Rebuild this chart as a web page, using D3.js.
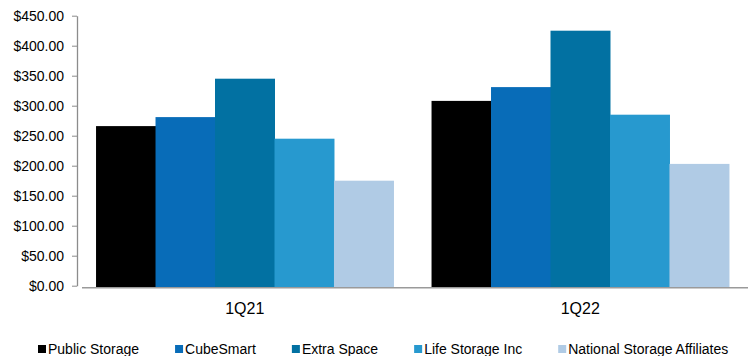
<!DOCTYPE html>
<html>
<head>
<meta charset="utf-8">
<script src="https://cdn.jsdelivr.net/npm/d3@7"></script>
<style>
  body { margin: 0; background: #fff; }
  svg { font-family: 'Liberation Sans', Arial, sans-serif; }
</style>
</head>
<body>
<div id="chart"></div>
<script>
var width = 748;
var height = 356;

var categories = ['1Q21', '1Q22'];
var seriesNames = ['Public Storage', 'CubeSmart', 'Extra Space', 'Life Storage Inc', 'National Storage Affiliates'];
var publicStorage = [266, 308];
var cubeSmart = [281, 331];
var extraSpace = [345, 425];
var lifeStorage = [245, 285];
var nationalStorage = [175, 203];
var seriesValues = [publicStorage, cubeSmart, extraSpace, lifeStorage, nationalStorage];
var colors = ['#000000', '#086cb8', '#0271a2', '#2799cf', '#b0cbe5'];
var yTicks = [0, 50, 100, 150, 200, 250, 300, 350, 400, 450];

var plotLeft = 77, plotRight = 748, plotTop = 15.7, plotBottom = 285.7;

var x0 = d3.scaleBand()
  .domain(categories)
  .range([plotLeft, plotRight]);

var x1 = d3.scaleBand()
  .domain(seriesNames)
  .range([0, x0.bandwidth()])
  .paddingOuter(0.32);

var y = d3.scaleLinear()
  .domain([0, 450])
  .range([plotBottom, plotTop]);

var svg = d3.select('#chart')
  .append('svg')
    .attr('width', width)
    .attr('height', height);

// bars
var groups = svg.selectAll('g.group')
  .data(categories).enter()
  .append('g')
    .attr('class', 'group')
    .attr('transform', d => 'translate(' + x0(d) + ',0)');

groups.selectAll('rect')
  .data((c, i) => seriesNames.map((s, j) => ({ s: s, v: seriesValues[j][i], c: colors[j] })))
  .enter()
  .append('rect')
    .attr('x', d => x1(d.s))
    .attr('width', x1.bandwidth() + 0.5)
    .attr('y', d => y(d.v))
    .attr('height', d => y(0) + 1.5 - y(d.v))
    .attr('fill', d => d.c);

// y axis
var yAxis = svg.append('g')
  .attr('transform', 'translate(' + plotLeft + ',0)')
  .call(d3.axisLeft(y)
    .tickValues(yTicks)
    .tickSize(5)
    .tickSizeOuter(0)
    .tickPadding(8)
    .tickFormat(d => '$' + d3.format('.2f')(d)));

yAxis.select('.domain').attr('stroke', '#8c8c8c').attr('stroke-width', 1.3);
yAxis.selectAll('.tick line').attr('stroke', '#8c8c8c');
yAxis.selectAll('.tick text')
  .attr('fill', '#000')
  .style('font-size', '14px')
  .style('font-family', "'Liberation Sans', Arial, sans-serif");

// x axis
var xAxis = svg.append('g')
  .attr('transform', 'translate(0,' + (y(0) + 2) + ')')
  .call(d3.axisBottom(x0).tickSize(0).tickPadding(15));

xAxis.select('.domain').remove();
xAxis.append('line')
  .attr('x1', plotLeft + 5)
  .attr('x2', plotRight)
  .attr('stroke', '#9a9a9a')
  .attr('stroke-width', 1.6);
xAxis.selectAll('.tick text')
  .attr('fill', '#000')
  .style('font-size', '16px')
  .style('font-family', "'Liberation Sans', Arial, sans-serif");

// legend
var legend = svg.append('g').attr('transform', 'translate(38,0)');
var lx = 0;
seriesNames.forEach(function(name, i) {
  var item = legend.append('g').attr('transform', 'translate(' + lx + ',0)');
  item.append('rect')
    .attr('x', 0)
    .attr('y', 345)
    .attr('width', 8)
    .attr('height', 8)
    .attr('fill', colors[i]);
  var t = item.append('text')
    .attr('x', 10)
    .attr('y', 354)
    .style('font-size', '14px')
    .attr('fill', '#000')
    .text(name);
  lx += 10 + t.node().getComputedTextLength() + 36;
});
</script>
</body>
</html>
